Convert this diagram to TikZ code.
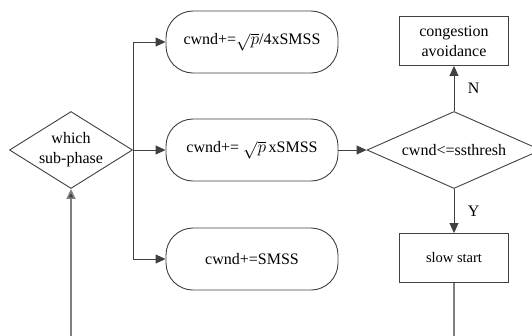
\documentclass[tikz,border=0pt]{standalone}
\usepackage{fontspec}
\setmainfont{Liberation Serif}
\usetikzlibrary{shapes.geometric,arrows.meta}
\definecolor{linegray}{HTML}{404040}
\begin{document}
\begin{tikzpicture}[x=1pt,y=-1pt,
		every node/.style={font=\fontsize{16}{20}\selectfont},
		decide/.style={diamond,draw=linegray,line width=0.9pt,inner sep=0pt,align=center},
		calc/.style={draw=linegray,line width=0.9pt,rounded corners=27pt,minimum width=172pt,minimum height=62pt},
		phase/.style={draw=linegray,line width=0.9pt,minimum width=109pt,minimum height=49pt,align=center},
		flow/.style={draw=linegray,line width=0.9pt,-{Triangle[length=10pt,width=9pt]}},
		loop/.style={draw=gray,line width=1.6pt,-{Triangle[length=10pt,width=9pt,fill=linegray]}}]
	\clip (0,0) rectangle (532,335);
	\coordinate (W) at (71,150); \coordinate (C) at (454,150);
	\node[decide,aspect=1.6,minimum width=123pt,minimum height=77pt] (which) at (W) {which\\sub-phase};
	\node[calc] (top) at (252,42) {cwnd+=$\sqrt{p}$/4xSMSS};
	\node[calc] (mid) at (252,150) {cwnd+= $\sqrt{p}$\,xSMSS};
	\node[calc] (bot) at (252,259) {cwnd+=SMSS};
	\node[decide,aspect=2.26,minimum width=174pt,minimum height=77pt] (check) at (C) {cwnd<=ssthresh};
	\node[phase] (ca) at (454,41) {congestion\\avoidance};
	\node[phase,font=\fontsize{14.5}{18}\selectfont] (ss) at (454,258) {slow start};
	\draw[flow] (which.east) |- (top.west);
	\draw[flow] (which.east) -- (mid.west);
	\draw[flow] (which.east) |- (bot.west);
	\draw[flow] (mid.east) -- (check.west);
	\draw[flow] (check.north) -- node[right=10pt] {N} (ca.south);
	\draw[flow] (check.south) -- node[right=10pt] {Y} (ss.north);
	\draw[loop] (ss.south) -- ++(0,80) -| (which.south);
\end{tikzpicture}
\end{document}
